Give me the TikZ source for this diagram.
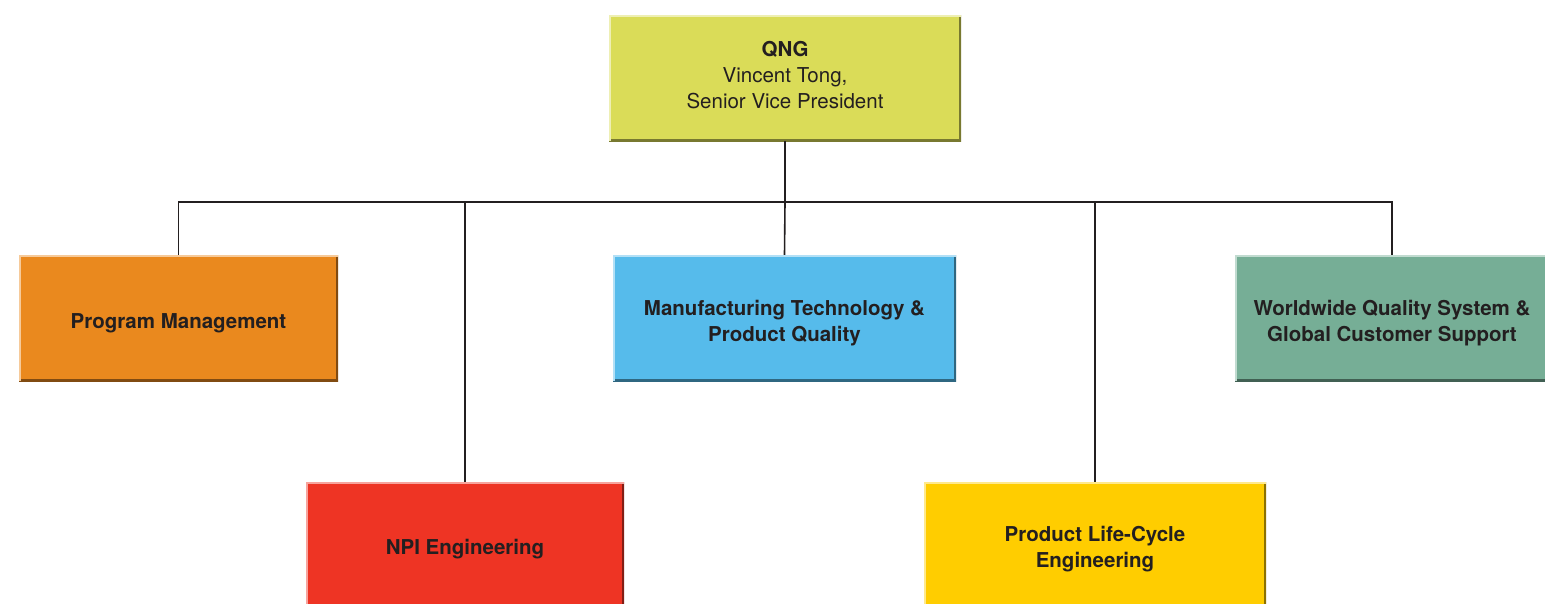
\documentclass[tikz,border=0pt]{standalone}
\usepackage{fontspec}
\setmainfont{TeX Gyre Heros}
\usepackage{tikz}
\usetikzlibrary{positioning}

\definecolor{qngcol}{RGB}{218,220,88}
\definecolor{pmcol}{RGB}{234,137,30}
\definecolor{mtcol}{RGB}{86,187,235}
\definecolor{wqcol}{RGB}{118,174,150}
\definecolor{npicol}{RGB}{238,52,36}
\definecolor{plccol}{RGB}{255,205,0}
\definecolor{inkcol}{RGB}{35,31,32}

% invisible struts to nudge the text inside a box
\newcommand{\tallline}[1]{\rule{0pt}{#1}}
\newcommand{\deepline}[1]{\rule[-#1]{0pt}{0pt}}

\begin{document}
\begin{tikzpicture}[x=1pt,y=-1pt,
    line/.style={draw=inkcol, line width=1.6pt},
    unit/.style={rectangle, fill=#1, minimum height=126pt, align=center,
      text=inkcol, font=\fontsize{20.5}{26}\selectfont\bfseries,
      path picture={
        \draw[#1!55!black, line width=5pt]
          (path picture bounding box.south west) -- (path picture bounding box.south east)
          -- (path picture bounding box.north east);
        \draw[#1!45!white, line width=3pt]
          (path picture bounding box.south west) -- (path picture bounding box.north west)
          -- (path picture bounding box.north east);
      }}]
    \useasboundingbox (0,0) rectangle (1545,603);

    \node[unit=qngcol, minimum width=352pt, font=\fontsize{20.5}{26}\selectfont] (qng) at (785,78)
      {\bfseries QNG\\Vincent Tong,\\Senior Vice President\deepline{6pt}};
    \node[unit=pmcol, minimum width=319pt] (pm) at (178.5,318)
      {\tallline{25pt}Program Management};
    \node[unit=mtcol, minimum width=343pt] (mt) at (784.5,318)
      {\tallline{25pt}Manufacturing Technology \&\\Product Quality};
    \node[unit=wqcol, minimum width=314pt] (wq) at (1392,318)
      {\tallline{25pt}Worldwide Quality System \&\\Global Customer Support};
    \node[unit=npicol, minimum width=318pt, minimum height=130pt] (npi) at (465,547)
      {\tallline{19pt}NPI Engineering};
    \node[unit=plccol, minimum width=342pt, minimum height=130pt] (plc) at (1095,547)
      {\tallline{19pt}Product Life-Cycle\\Engineering};

    \coordinate (bus) at (785,202);

    \path[line]
      (qng.south) edge (bus)
      (bus) edge (mt.north);
    \draw[line] (pm.north) |- (bus) -| (wq.north);
    \draw[line] (npi.north) |- (bus);
    \draw[line] (plc.north) |- (bus);
\end{tikzpicture}
\end{document}
